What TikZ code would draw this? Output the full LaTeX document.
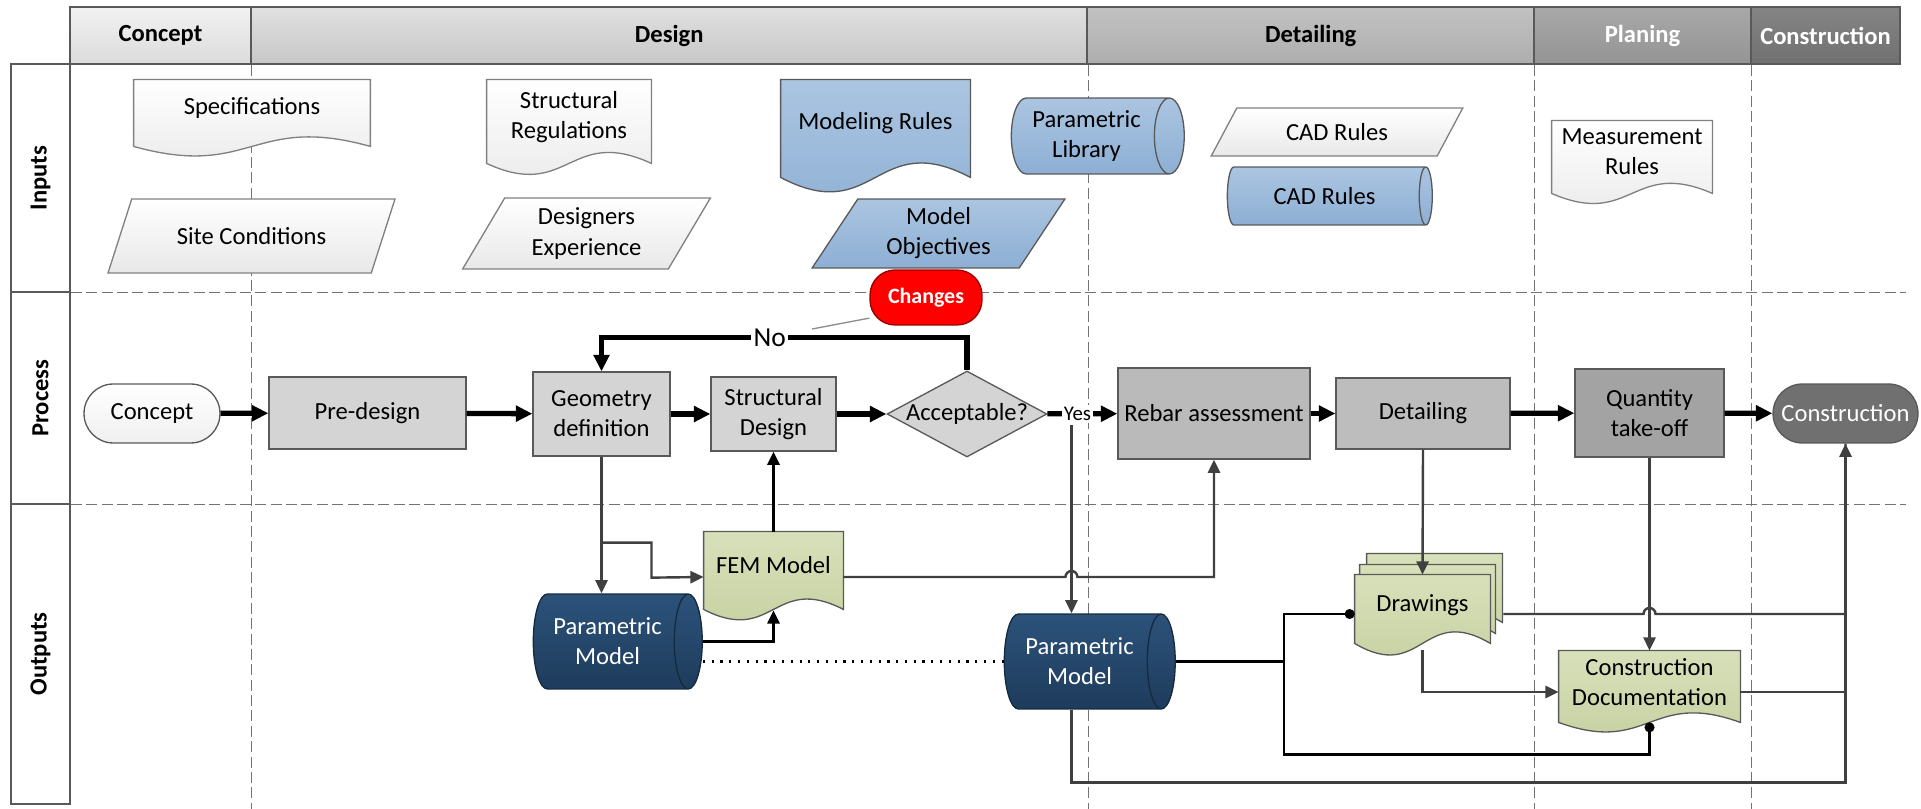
\documentclass[tikz,border=0pt]{standalone}
\usepackage{fontspec}
\setmainfont{Carlito}
\usetikzlibrary{arrows.meta}
\usetikzlibrary{calc}
\usetikzlibrary{shapes.geometric}

\pgfdeclarelayer{grid}
\pgfdeclarelayer{docs}
\pgfsetlayers{grid,docs,main}

\definecolor{edge}{HTML}{595959}
\definecolor{wire}{HTML}{404040}
\definecolor{blue1}{HTML}{ABC5E1}
\definecolor{blue2}{HTML}{8DAFD4}
\definecolor{green1}{HTML}{D8E0BA}
\definecolor{green2}{HTML}{C4CF9E}
\definecolor{navy1}{HTML}{2C527A}
\definecolor{navy2}{HTML}{1E3C5C}

% document outline with a wavy bottom, drawn under node #1
\newcommand{\docu}[4]{%
  \begin{pgfonlayer}{docs}
  \draw [#4] (#1.north west) -- (#1.north east) -- ($(#1.south east)+(0,#2)$)
    .. controls ($(#1.south)+(0,#2-#3)$) and ($(#1.south)+(0,#2+#3)$) .. ($(#1.south west)+(0,#2)$) -- cycle;
  \end{pgfonlayer}}

\begin{document}
\begin{tikzpicture}[x=0.016cm,y=-0.016cm,font=\fontsize{11.2}{13.7}\selectfont,>={Triangle[length=6pt,width=5.5pt]},
  hdr/.style={draw=edge,line width=.8pt,minimum height=.912cm,font=\fontsize{11.2}{13.7}\selectfont\bfseries},
  lane/.style={draw=edge,line width=.8pt,fill=white,rotate=90,minimum height=.944cm,font=\fontsize{11.2}{13.7}\selectfont\bfseries},
  sep/.style={draw=black!55,line width=.5pt,dash pattern=on 5pt off 2pt},
  txt/.style={align=center,inner sep=0pt},
  pdoc/.style={draw=black!50,line width=.6pt,top color=white,bottom color=black!9},
  bdoc/.style={draw=edge,line width=.6pt,top color=blue1,bottom color=blue2},
  gdoc/.style={draw=edge,line width=.6pt,top color=green1,bottom color=green2},
  ndoc/.style={draw=navy2!70!black,line width=.6pt,top color=navy1,bottom color=navy2,text=white},
  para/.style={trapezium,trapezium stretches=true,align=center},
  drum/.style={cylinder,aspect=.5,align=center,inner sep=2pt},
  box/.style={draw=edge,line width=.6pt,align=center,inner sep=2pt},
  term/.style={box,rounded corners=.47cm,minimum height=.944cm},
  changes/.style={draw=red!60!black,line width=.6pt,fill=red,text=white,rounded corners=.4cm,minimum width=1.792cm,minimum height=.88cm,font=\fontsize{10}{12}\selectfont\bfseries},
  yes/.style={fill=white,inner sep=1pt,font=\fontsize{9.5}{11}\selectfont},
  nolbl/.style={fill=white,inner sep=1pt,font=\fontsize{12.5}{14}\selectfont},
  flow/.style={line width=2.4pt,-{Triangle[length=7.5pt,width=7pt]}},
  conn/.style={draw=wire,line width=1.1pt,->},
  link/.style={draw=black,line width=1.2pt}]
\useasboundingbox (0,0) rectangle (1921,809);

% phases
\draw node [hdr,top color=black!5,bottom color=black!14,minimum width=2.896cm] (hConcept) at (160.5,35.5) {Concept};
\draw node [hdr,top color=black!12,bottom color=black!22,minimum width=13.384cm] (hDesign) at (669.25,35.5) {Design};
\draw node [hdr,top color=black!24,bottom color=black!32,minimum width=7.144cm] (hDetailing) at (1310.75,35.5) {Detailing};
\draw node [hdr,top color=black!34,bottom color=black!42,minimum width=3.472cm,text=white] (hPlaning) at (1642.5,35.5) {Planing};
\draw node [hdr,top color=black!48,bottom color=black!56,minimum width=2.384cm,text=white] (hConstruction) at (1825.5,35.5) {Construction};

% lanes
\draw node [lane,minimum width=3.648cm] (lInputs) at (40.5,178) {Inputs};
\draw node [lane,minimum width=3.392cm] (lProcess) at (40.5,398) {Process};
\draw node [lane,minimum width=4.8cm] (lOutputs) at (40.5,654) {Outputs};
\begin{pgfonlayer}{grid}
\foreach \h in {hConcept,hDesign,hDetailing,hPlaning}
  \draw [sep] (\h.south east) -- (\h.south east |- 0,809);
\foreach \l in {lInputs,lProcess}
  \draw [sep] (\l.south west) -- ++(1835,0);
\end{pgfonlayer}

% inputs
\draw node [txt,minimum width=3.776cm,minimum height=.896cm] (spec) at (252,108) {Specifications};
\docu{spec}{10}{33}{pdoc}
\draw node [txt,minimum width=2.624cm,minimum height=1.184cm] (strreg) at (569,117) {Structural\\Regulations};
\docu{strreg}{9}{38}{pdoc}
\draw node [txt,minimum width=3.024cm,minimum height=1.376cm] (modrules) at (875.5,123) {Modeling Rules};
\docu{modrules}{11}{50}{bdoc}
\draw node [txt,minimum width=2.56cm,minimum height=.992cm] (measrules) at (1632,152) {Measurement\\Rules};
\docu{measrules}{10}{35}{pdoc}
\draw node [para,pdoc,trapezium left angle=63,trapezium right angle=117,minimum width=4.624cm,minimum height=1.184cm] (site) at (251.5,236) {Site Conditions};
\draw node [para,pdoc,trapezium left angle=64,trapezium right angle=116,minimum width=3.984cm,minimum height=1.136cm] (desexp) at (586.5,233.5) {Designers\\Experience};
\draw node [para,bdoc,trapezium left angle=63,trapezium right angle=117,minimum width=4.048cm,minimum height=1.104cm] (modobj) at (938.5,233.5) {Model\\Objectives};
\draw node [para,pdoc,trapezium left angle=65,trapezium right angle=115,minimum width=4.032cm,minimum height=.768cm] (cad1) at (1337,132) {CAD Rules};
\draw node [drum,bdoc,minimum height=2.768cm,minimum width=1.216cm] (paramlib) at (1086.5,136) {Parametric\\Library};
\draw node [drum,bdoc,minimum height=3.28cm,minimum width=.928cm] (cad2) at (1324.5,196) {CAD Rules};

% process
\draw node [term,top color=white,bottom color=black!6,minimum width=2.176cm] (concept) at (152,413.5) {Concept};
\draw node [box,fill=black!17,minimum width=3.152cm,minimum height=1.152cm] (predesign) at (367.5,413) {Pre-design};
\draw node [box,fill=black!17,minimum width=2.192cm,minimum height=1.344cm] (geomdef) at (601.5,414) {Geometry\\definition};
\draw node [box,fill=black!17,minimum width=2cm,minimum height=1.184cm] (strdes) at (773.5,414) {Structural\\Design};
\draw node [diamond,draw=edge,line width=.6pt,fill=black!17,aspect=1.86,inner sep=-4pt,minimum width=2.56cm,minimum height=1.376cm] (accept) at (967,414) {Acceptable?};
\draw node [box,fill=black!27,minimum width=3.072cm,minimum height=1.456cm] (rebar) at (1214,413.5) {Rebar assessment};
\draw node [box,fill=black!26,minimum width=2.784cm,minimum height=1.136cm] (detailing) at (1423,413.5) {Detailing};
\draw node [box,fill=black!36,minimum width=2.384cm,minimum height=1.408cm] (qto) at (1649.5,413) {Quantity\\take-off};
\draw node [term,fill=black!56,text=white,minimum width=2.32cm] (construction) at (1845.5,413.5) {Construction};
\draw node [changes] (changes) at (926,297.5) {Changes};

% outputs
\draw node [txt,minimum width=2.224cm,minimum height=1.056cm] (fem) at (773.5,565) {FEM Model};
\docu{fem}{11}{36}{gdoc}
\draw node [txt,minimum width=2.16cm,minimum height=.96cm] (drw3) at (1434.5,584) {};
\draw node [txt,minimum width=2.16cm,minimum height=.96cm] (drw2) at (1427.5,595) {};
\draw node [txt,minimum width=2.16cm,minimum height=.96cm] (drawings) at (1422.5,605) {Drawings};
\docu{drw3}{8}{40}{gdoc}
\docu{drw2}{8}{40}{gdoc}
\docu{drawings}{8}{40}{gdoc}
\draw node [txt,minimum width=2.896cm,minimum height=.992cm] (constdoc) at (1649.5,682) {Construction\\Documentation};
\docu{constdoc}{9}{33}{gdoc}
\draw node [drum,ndoc,minimum height=2.704cm,minimum width=1.52cm] (pmL) at (607.5,641.5) {Parametric\\Model};
\draw node [drum,ndoc,minimum height=2.736cm,minimum width=1.52cm] (pmR) at (1079.5,661.5) {Parametric\\Model};

% main flow
\draw [flow] (concept) -- (predesign);
\draw [flow] (predesign) -- (geomdef);
\draw [flow] (geomdef) -- (strdes);
\draw [flow] (strdes) -- (accept);
\draw [flow] (accept) -- node [yes,pos=.43] (yes) {Yes} (rebar);
\draw [flow] (rebar) -- (detailing);
\draw [flow] (detailing) -- (qto);
\draw [flow] (qto) -- (construction);
\draw [flow] (accept.north) -- ++(0,-33) -| node [nolbl,pos=.27] (no) {No} (geomdef.north);
\coordinate (callend) at (812,329);
\draw [draw=black!45,line width=.6pt] (changes.200) -- (callend);

% output links
\coordinate (yesdn) at ($(yes.south)+(-6,0)$);
\draw [conn] (geomdef.south) -- (geomdef.south |- pmL.north);
\draw [conn] ($(geomdef.south)+(0,86)$) -| ($(geomdef.south)+(50,121)$) -- ($(fem.west)+(0,12)$);
\draw [link,->] (fem.north) -- (strdes.south);
\draw [link,->] (pmL.east) -| ($(fem.south)+(0,12)$);
\draw [conn] ($(fem.east)+(0,12)$) -- ($(yesdn |- fem.east)+(-6,12)$) arc [start angle=180,end angle=360,radius=6] -| (rebar.south);
\draw [conn] (yesdn) -- (yesdn |- pmR.north);
\draw [line width=1pt,dash pattern=on 1pt off 3pt] (pmL.east |- pmR.west) -- (pmR.west);
\draw [link] (pmR.east) -- ++(108,0) coordinate (split);
\draw [link,-{Circle[length=4.5pt]}] (split) |- ($(drawings.west)+(0,9)$);
\draw [link,-{Circle[length=4.5pt]}] (split) -- ++(0,93) -| ($(constdoc.south)+(0,9)$);
\draw [conn] (detailing.south) -- (drawings.north);
\draw [conn] ($(drawings.south)+(0,15)$) |- ($(constdoc.west)+(0,10)$);
\draw [conn] (qto.south) -- (qto.south |- constdoc.north);
\draw [conn,-] ($(drawings.east)+(13,9)$) -- ($(qto.south |- drawings.east)+(-6,9)$) arc [start angle=180,end angle=360,radius=6] -| (construction.south);
\draw [conn,-] ($(constdoc.east)+(0,10)$) -- ($(construction.south |- constdoc.east)+(0,10)$);
\draw [conn] ($(pmR.south)+(-8,0)$) -- ++(0,73) -| (construction.south);
\end{tikzpicture}
\end{document}
